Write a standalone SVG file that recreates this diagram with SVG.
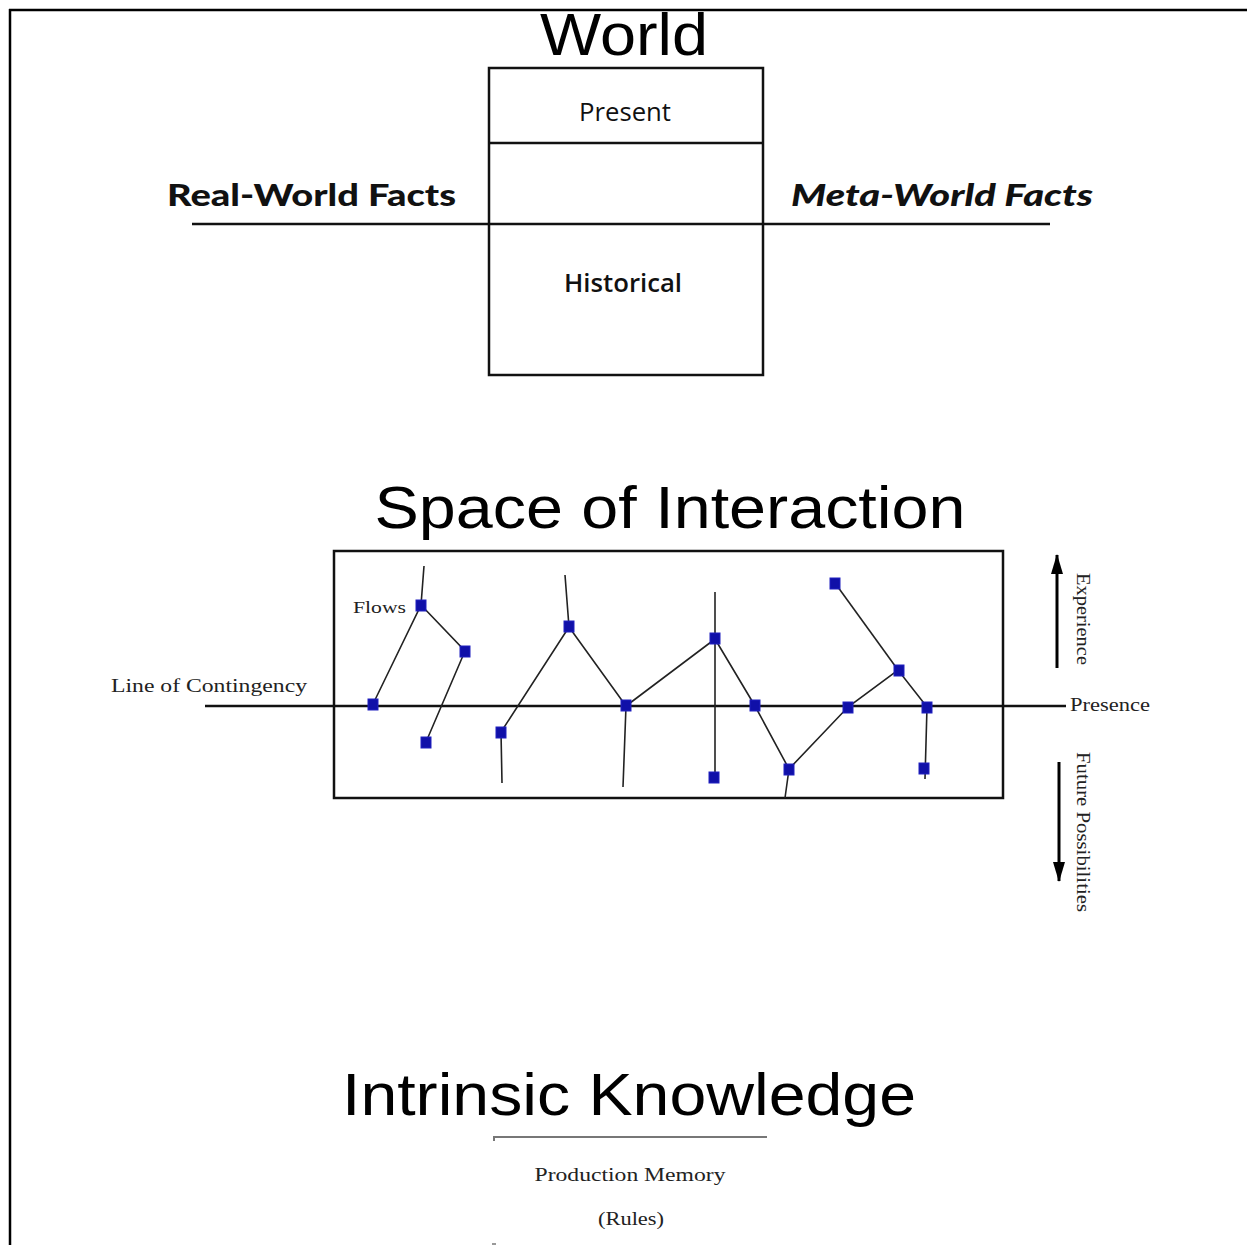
<svg xmlns="http://www.w3.org/2000/svg" width="1247" height="1245" viewBox="0 0 1247 1245">
<defs>
<style>
.ln{stroke:#111;stroke-width:2.5;fill:none}
.fl{stroke:#222;stroke-width:1.6;fill:none}
.nd{fill:#1010a8;stroke:#2020c0;stroke-width:1}
.title{font-family:"Liberation Sans",Arial,sans-serif;fill:#000}
.serif{font-family:"Liberation Serif","Times New Roman",serif;fill:#222}
.sans{font-family:"Open Sans","Lato",sans-serif;fill:#111}
.heavy{font-family:"Lato","Open Sans",sans-serif;font-weight:900;fill:#111}
</style>
<marker id="ah" viewBox="0 0 10 10" refX="9" refY="5" markerWidth="10" markerHeight="10" markerUnits="userSpaceOnUse" orient="auto">
<path d="M0,0 L10,5 L0,10 Z" fill="#000"/>
</marker>
<marker id="ah2" viewBox="0 0 20 12" refX="19" refY="6" markerWidth="22" markerHeight="12" markerUnits="userSpaceOnUse" orient="auto">
<path d="M0,0 L20,6 L0,12 Z" fill="#000"/>
</marker>
</defs>
<rect width="1247" height="1245" fill="#fff"/>
<!-- frame -->
<g id="frame">
<line x1="9" y1="10" x2="1247" y2="10" stroke="#000" stroke-width="2.5"/>
<line x1="10" y1="9" x2="10" y2="1245" stroke="#000" stroke-width="2.5"/>
</g>

<!-- World -->
<g id="world">
<text class="title" x="624" y="55" font-size="60" text-anchor="middle" textLength="168" lengthAdjust="spacingAndGlyphs">World</text>
<rect x="489" y="68" width="274" height="307" class="ln"/>
<line x1="489" y1="143" x2="763" y2="143" class="ln"/>
<text class="sans" x="625" y="121" font-size="26" text-anchor="middle" textLength="92" lengthAdjust="spacingAndGlyphs">Present</text>
<text class="sans" x="623" y="292" font-size="26" font-weight="600" text-anchor="middle" textLength="118" lengthAdjust="spacingAndGlyphs">Historical</text>
</g>
<g id="facts-line">
<line x1="192" y1="224" x2="1050" y2="224" class="ln"/>
</g>
<g id="real-world">
<text class="heavy" x="167" y="206" font-size="30" textLength="289" lengthAdjust="spacingAndGlyphs">Real-World Facts</text>
</g>
<g id="meta-world">
<text class="heavy" x="791" y="206" font-size="30" font-style="italic" textLength="302" lengthAdjust="spacingAndGlyphs">Meta-World Facts</text>
</g>

<!-- Space of Interaction -->
<g id="space-of-interaction">
<text class="title" x="670" y="528" font-size="60" text-anchor="middle" textLength="591" lengthAdjust="spacingAndGlyphs">Space of Interaction</text>
<rect x="334" y="551" width="669" height="247" class="ln"/>
</g>

<g id="connectors">
<line x1="205" y1="706" x2="1066" y2="706" class="ln"/>
<polyline class="fl" points="424,566 421,605 373,704"/>
<polyline class="fl" points="421,605 465,651 426,742"/>
<polyline class="fl" points="565,575 569,627 501,732 502,783"/>
<polyline class="fl" points="569,627 626,706 623,787"/>
<polyline class="fl" points="626,706 715,639 755,706 789,769 785,798"/>
<line class="fl" x1="715" y1="592" x2="715" y2="777" stroke-width="2"/>
<polyline class="fl" points="789,769 848,707 898,670 927,707 925,779"/>
<polyline class="fl" points="835,583 898,670"/>
<line x1="1057" y1="668" x2="1057" y2="555" stroke="#000" stroke-width="3" marker-end="url(#ah2)"/>
<line x1="1059" y1="762" x2="1059" y2="881" stroke="#000" stroke-width="3" marker-end="url(#ah2)"/>
</g>

<g id="nodes">
<rect class="nd" x="368" y="699" width="10" height="11"/>
<rect class="nd" x="416" y="600" width="10" height="11"/>
<rect class="nd" x="460" y="646" width="10" height="11"/>
<rect class="nd" x="421" y="737" width="10" height="11"/>
<rect class="nd" x="496" y="727" width="10" height="11"/>
<rect class="nd" x="564" y="621" width="10" height="11"/>
<rect class="nd" x="621" y="700" width="10" height="11"/>
<rect class="nd" x="710" y="633" width="10" height="11"/>
<rect class="nd" x="709" y="772" width="10" height="11"/>
<rect class="nd" x="750" y="700" width="10" height="11"/>
<rect class="nd" x="784" y="764" width="10" height="11"/>
<rect class="nd" x="843" y="702" width="10" height="11"/>
<rect class="nd" x="830" y="578" width="10" height="11"/>
<rect class="nd" x="894" y="665" width="10" height="11"/>
<rect class="nd" x="922" y="702" width="10" height="11"/>
<rect class="nd" x="919" y="763" width="10" height="11"/>
</g>

<g id="labels">
<text class="serif" x="353" y="613" font-size="17" fill="#444" textLength="53" lengthAdjust="spacingAndGlyphs">Flows</text>
<text class="serif" x="111" y="692" font-size="18" textLength="196" lengthAdjust="spacingAndGlyphs">Line of Contingency</text>
<text class="serif" x="1070" y="711" font-size="18" textLength="80" lengthAdjust="spacingAndGlyphs">Presence</text>
<text class="serif" transform="translate(1077,573) rotate(90)" font-size="18" textLength="92" lengthAdjust="spacingAndGlyphs">Experience</text>
<text class="serif" transform="translate(1077,752) rotate(90)" font-size="18" textLength="160" lengthAdjust="spacingAndGlyphs">Future Possibilities</text>
</g>

<!-- Intrinsic Knowledge -->
<g id="intrinsic-knowledge">
<text class="title" x="629" y="1115" font-size="60" text-anchor="middle" textLength="574" lengthAdjust="spacingAndGlyphs">Intrinsic Knowledge</text>
<line x1="493" y1="1137" x2="767" y2="1137" stroke="#777" stroke-width="2"/>
<line x1="494" y1="1137" x2="494" y2="1141" stroke="#777" stroke-width="2"/>
<text class="serif" x="630" y="1181" font-size="19" text-anchor="middle" textLength="191" lengthAdjust="spacingAndGlyphs">Production Memory</text>
<text class="serif" x="631" y="1225" font-size="19" text-anchor="middle" textLength="66" lengthAdjust="spacingAndGlyphs">(Rules)</text>
<line x1="492" y1="1244" x2="496" y2="1244" stroke="#777" stroke-width="1.5"/>
</g>
</svg>
